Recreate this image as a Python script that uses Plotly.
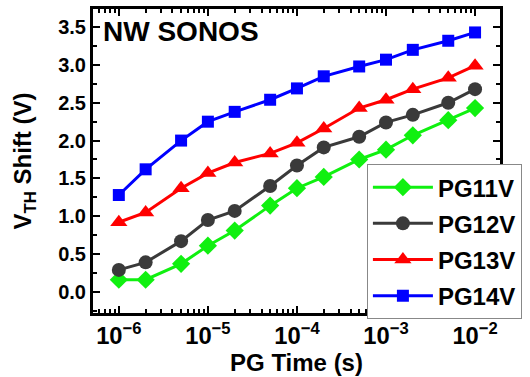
import plotly.graph_objects as go

pg_time = [1e-6, 2e-6, 5e-6, 1e-5, 2e-5, 5e-5, 1e-4, 2e-4, 5e-4, 1e-3, 2e-3, 5e-3, 1e-2]
pg11v = [0.16, 0.16, 0.37, 0.61, 0.81, 1.14, 1.37, 1.52, 1.75, 1.88, 2.07, 2.27, 2.43]
pg12v = [0.29, 0.39, 0.67, 0.95, 1.07, 1.40, 1.67, 1.91, 2.05, 2.24, 2.34, 2.50, 2.68]
pg13v = [0.92, 1.05, 1.37, 1.57, 1.71, 1.83, 1.97, 2.16, 2.43, 2.54, 2.68, 2.83, 2.99]
pg14v = [1.28, 1.62, 2.00, 2.25, 2.38, 2.54, 2.69, 2.85, 2.98, 3.07, 3.20, 3.32, 3.43]

series = [
    ("PG11V", pg11v, "#10f010", "diamond", 14),
    ("PG12V", pg12v, "#3a3a3a", "circle", 14),
    ("PG13V", pg13v, "#ff0000", "triangle-up", 15),
    ("PG14V", pg14v, "#0000ff", "square", 12),
]

fig = go.Figure()
for i, (name, vals, color, sym, size) in enumerate(series):
    fig.add_trace(go.Scatter(
        x=pg_time, y=vals, name=name, mode="lines+markers",
        line=dict(color=color, width=3),
        marker=dict(symbol=sym, size=size, color=color),
        legendgroup=name,
    ))

FONT = "Liberation Sans, Arial, sans-serif"
fig.update_layout(
    width=530, height=377,
    margin=dict(l=93, r=30, t=9, b=64, autoexpand=False),
    paper_bgcolor="white", plot_bgcolor="white",
    font=dict(family=FONT, size=20, color="black", weight="bold"),
    showlegend=True,
    legend=dict(
        x=0.673, y=0.49, xanchor="left", yanchor="top",
        bgcolor="white", bordercolor="#888888", borderwidth=1,
        font=dict(size=24, family=FONT, weight="bold"),
        tracegroupgap=2, itemwidth=60,
    ),
    annotations=[dict(
        text="NW SONOS", xref="paper", yref="paper", x=0.02, y=0.985,
        xanchor="left", yanchor="top", showarrow=False,
        font=dict(size=28, family=FONT, weight="bold"),
    )],
)
fig.update_xaxes(
    type="log", range=[-6.29, -1.72],
    dtick=1, exponentformat="power",
    showline=True, linewidth=3, linecolor="black", mirror="allticks",
    ticks="inside", ticklen=7, tickwidth=2, tickcolor="black",
    minor=dict(ticks="inside", ticklen=4, tickwidth=1.5, tickcolor="black", dtick="D1", showgrid=False),
    showgrid=False, zeroline=False, automargin=False,
    title=dict(text="PG Time (s)", font=dict(size=24), standoff=4),
    tickfont=dict(size=19),
)
fig.update_yaxes(
    range=[-0.28, 3.74],
    tickvals=[0, 0.5, 1.0, 1.5, 2.0, 2.5, 3.0, 3.5],
    ticktext=["0.0", "0.5", "1.0", "1.5", "2.0", "2.5", "3.0", "3.5"],
    showline=True, linewidth=3, linecolor="black", mirror="allticks",
    ticks="inside", ticklen=7, tickwidth=2, tickcolor="black",
    minor=dict(ticks="inside", ticklen=4, tickwidth=1.5, tickcolor="black", dtick=0.25, tick0=0, showgrid=False),
    showgrid=False, zeroline=False, automargin=False,
    title=dict(text="V<sub>TH</sub> Shift (V)", font=dict(size=24), standoff=20),
    tickfont=dict(size=20),
)
fig.write_html("out.html")
